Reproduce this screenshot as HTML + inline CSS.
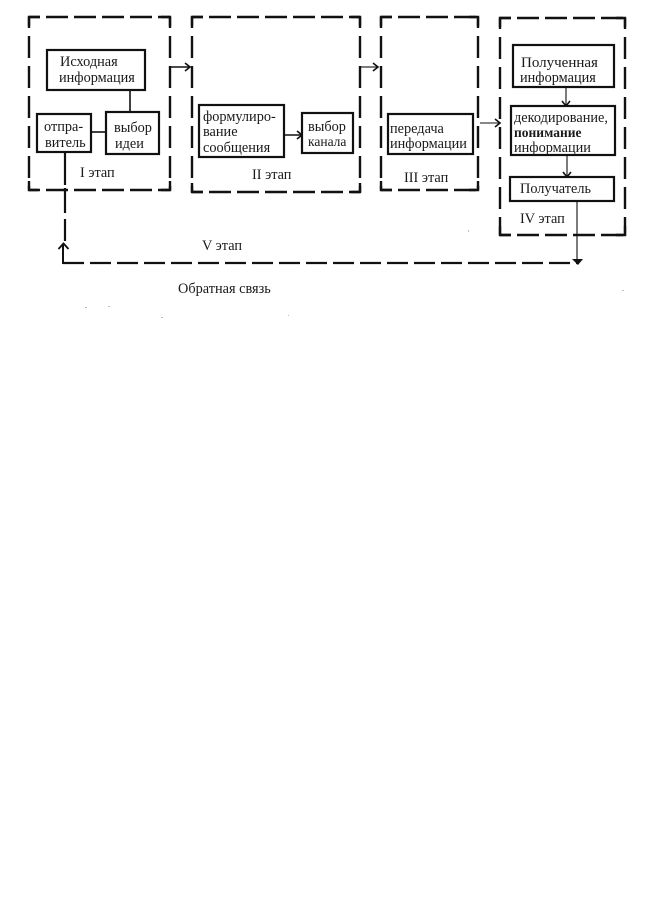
<!DOCTYPE html>
<html lang="ru">
<head>
<meta charset="utf-8">
<style>
html,body{margin:0;padding:0;background:#fff;}
svg{display:block;}
text{font-family:"Liberation Serif","Noto Serif CJK SC",serif;font-size:14.3px;fill:#1a1a1a;}
.h{fill:none;stroke:#111;stroke-width:2.4;stroke-dasharray:22 6;stroke-dashoffset:11;}
.v{fill:none;stroke:#111;stroke-width:2.4;stroke-dasharray:22 8;stroke-dashoffset:11;}
.c{fill:none;stroke:#111;stroke-width:2.4;}
.b{fill:#fff;stroke:#111;stroke-width:2.2;}
.l{fill:none;stroke:#111;stroke-width:1.6;}
.t{fill:none;stroke:#111;stroke-width:1.1;}
.a{fill:#111;}
.s{fill:#bbb;}
</style>
</head>
<body>
<svg width="660" height="901" viewBox="0 0 660 901" xmlns="http://www.w3.org/2000/svg">
<rect width="660" height="901" fill="#fff"/>

<!-- dashed stage frames: frame I -->
<path class="h" d="M29 17H170M29 190H170"/>
<path class="v" d="M29 17V190M170 17V190"/>
<path class="c" d="M29 26V17H40M161 17H170V26M29 181V190H38M161 190H170V181"/>
<!-- frame II -->
<path class="h" d="M192 17H360M192 192H360"/>
<path class="v" d="M192 17V192M360 17V192"/>
<path class="c" d="M192 26V17H203M351 17H360V26M192 183V192H203M351 192H360V183"/>
<!-- frame III -->
<path class="h" d="M381 17H478M381 190H478"/>
<path class="v" d="M381 17V190M478 17V190"/>
<path class="c" d="M381 26V17H392M469 17H478V26M381 181V190H392M469 190H478V181"/>
<!-- frame IV -->
<path class="h" d="M500 18H625M500 235H625"/>
<path class="v" d="M500 18V235M625 18V235"/>
<path class="c" d="M500 27V18H511M616 18H625V27M500 226V235H511M616 235H625V226"/>

<!-- connectors between frames -->
<path class="l" d="M171 67H189"/><path class="l" d="M185 63L190 67L185 71"/>
<path class="t" d="M361 67H377"/><path class="l" d="M373 63L378 67L373 71"/>
<path class="t" d="M480 123H499"/><path class="l" d="M495 119L500 123L495 127"/>

<!-- solid connectors in frames -->
<path class="l" d="M130 91V112"/>
<path class="l" d="M91 132H106"/>
<path class="l" d="M284 135H301"/><path class="l" d="M297 131L302 135L297 139"/>
<path class="t" d="M566 87V105"/><path class="l" d="M562 101L566 106L570 101"/>
<path class="t" d="M567 156V176"/><path class="l" d="M563 172L567 177L571 172"/>

<!-- feedback loop -->
<path class="c" style="stroke-width:2.2" d="M65 153V185M65 188V213M65 219V241"/>
<path class="c" style="stroke-dasharray:21 6;stroke-width:2.2" d="M63 263H578" />
<path class="c" style="stroke-width:2" d="M63 245V263H70"/>
<path class="c" style="stroke-width:1.8" d="M58.500 249L63.500 243.500L68.500 249"/>
<path class="t" d="M577 202V260"/>
<path class="a" d="M572 259H583L578 265Z"/>

<!-- boxes -->
<rect class="b" x="47" y="50" width="98" height="40"/>
<rect class="b" x="37" y="114" width="54" height="38"/>
<rect class="b" x="106" y="112" width="53" height="42"/>
<rect class="b" x="199" y="105" width="85" height="52"/>
<rect class="b" x="302" y="113" width="51" height="40"/>
<rect class="b" x="388" y="114" width="85" height="40"/>
<rect class="b" x="513" y="45" width="101" height="42"/>
<rect class="b" x="511" y="106" width="104" height="49"/>
<rect class="b" x="510" y="177" width="104" height="24"/>

<!-- box labels -->
<text x="60" y="66">Исходная</text>
<text x="59" y="82">информация</text>
<text x="44" y="131">отпра-</text>
<text x="45" y="147">витель</text>
<text x="114" y="132">выбор</text>
<text x="115" y="148">идеи</text>
<text x="203" y="121">формулиро-</text>
<text x="203" y="136">вание</text>
<text x="203" y="152">сообщения</text>
<text x="308" y="131">выбор</text>
<text x="308" y="146" style="font-size:13.5px">канала</text>
<text x="390" y="133">передача</text>
<text x="390" y="148">информации</text>
<text x="521" y="67" style="font-size:15px">Полученная</text>
<text x="520" y="82">информация</text>
<text x="514" y="122">декодирование,</text>
<text x="514" y="137" style="font-weight:bold;font-size:13.5px">понимание</text>
<text x="514" y="152">информации</text>
<text x="520" y="193">Получатель</text>

<!-- stage labels -->
<text x="80" y="177">I этап</text>
<text x="252" y="179">II этап</text>
<text x="404" y="182">III этап</text>
<text x="520" y="223">IV этап</text>
<text x="202" y="250">V этап</text>
<text x="178" y="293">Обратная связь</text>

<!-- scan specks -->
<rect class="s" x="161" y="317" width="2" height="1"/>
<rect class="s" x="85" y="307" width="2" height="1"/>
<rect class="s" x="108" y="306" width="2" height="1"/>
<rect class="s" x="468" y="230" width="1" height="2"/>
<rect class="s" x="288" y="315" width="1" height="1"/>
<rect class="s" x="622" y="290" width="2" height="1"/>
</svg>
</body>
</html>
